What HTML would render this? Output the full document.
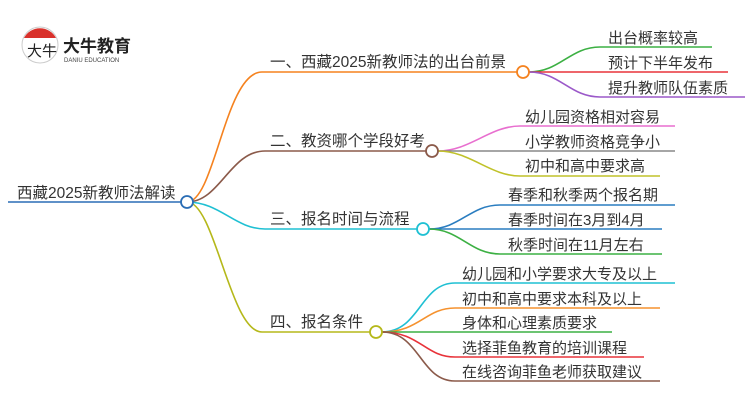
<!DOCTYPE html>
<html><head><meta charset="utf-8"><style>
html,body{margin:0;padding:0;background:#fff;}
svg{display:block;}
text{font-family:"Liberation Sans","Noto Sans CJK SC",sans-serif;fill:#333;}
</style></head><body>
<svg width="750" height="410" viewBox="0 0 750 410" xmlns="http://www.w3.org/2000/svg">
<circle cx="40" cy="45" r="18" fill="#fff" stroke="#ccc" stroke-width="1"/>
<path d="M24 38 A18 18 0 0 1 56 38 Z" fill="#d9312b"/>
<text x="27" y="56" font-size="15" style="fill:#222">大牛</text>
<text x="63" y="52" font-size="17" font-weight="bold" style="fill:#222">大牛教育</text>
<text x="64" y="62" font-size="6" style="fill:#444">DANIU EDUCATION</text>
<g fill="none" stroke-width="1.6">
<line x1="8" y1="202" x2="186" y2="202" stroke="#2a6db5"/>
<path d="M187 202 C215 202 225 72 262 72 L517 72" stroke="#f5821f"/>
<path d="M187 202 C220 202 230 151 265 151 L426 151" stroke="#8b5a4a"/>
<path d="M187 202 C220 202 235 229 265 229 L417 229" stroke="#1fc0d3"/>
<path d="M187 202 C215 202 230 332 262 332 L370 332" stroke="#b5b81a"/>
<path d="M529 72 C560 72 570 47 600 47 L712 47" stroke="#3cb043"/>
<path d="M529 72 L728 72" stroke="#e8333a"/>
<path d="M529 72 C560 72 570 97 600 97 L745 97" stroke="#9b59c9"/>
<path d="M438 151 C470 151 490 126 520 126 L675 126" stroke="#e86fcf"/>
<path d="M438 151 L675 151" stroke="#888"/>
<path d="M438 151 C470 151 490 176 520 176 L660 176" stroke="#c0c22a"/>
<path d="M429 229 C460 229 470 205 500 205 L675 205" stroke="#2a7dc0"/>
<path d="M429 229 L662 229" stroke="#2a7dc0"/>
<path d="M429 229 C460 229 470 254 500 254 L662 254" stroke="#3cb043"/>
<path d="M382 332 C420 332 420 283 455 283 L675 283" stroke="#1fc0d3"/>
<path d="M382 332 C420 332 425 308 455 308 L660 308" stroke="#f5922f"/>
<path d="M382 332 L612 332" stroke="#3cb043"/>
<path d="M382 332 C420 332 425 357 455 357 L644 357" stroke="#e8333a"/>
<path d="M382 332 C420 332 420 381 455 381 L660 381" stroke="#8b5a4a"/>
</g>
<g fill="#fff" stroke-width="1.8">
<circle cx="187" cy="202" r="6" stroke="#2a6db5"/>
<circle cx="523" cy="72" r="6" stroke="#f5821f"/>
<circle cx="432" cy="151" r="6" stroke="#8b5a4a"/>
<circle cx="423" cy="229" r="6" stroke="#1fc0d3"/>
<circle cx="376" cy="332" r="6" stroke="#b5b81a"/>
</g>
<g font-size="15.5">
<text x="17" y="198">西藏2025新教师法解读</text>
<text x="270" y="67">一、西藏2025新教师法的出台前景</text>
<text x="270" y="146">二、教资哪个学段好考</text>
<text x="270" y="224">三、报名时间与流程</text>
<text x="270" y="327">四、报名条件</text>
</g>
<g font-size="15">
<text x="608" y="43">出台概率较高</text>
<text x="608" y="68">预计下半年发布</text>
<text x="608" y="93">提升教师队伍素质</text>
<text x="525" y="122">幼儿园资格相对容易</text>
<text x="525" y="147">小学教师资格竞争小</text>
<text x="525" y="171">初中和高中要求高</text>
<text x="508" y="200">春季和秋季两个报名期</text>
<text x="508" y="225">春季时间在3月到4月</text>
<text x="508" y="250">秋季时间在11月左右</text>
<text x="462" y="279">幼儿园和小学要求大专及以上</text>
<text x="462" y="304">初中和高中要求本科及以上</text>
<text x="462" y="328">身体和心理素质要求</text>
<text x="462" y="353">选择菲鱼教育的培训课程</text>
<text x="462" y="377">在线咨询菲鱼老师获取建议</text>
</g>
</svg>
</body></html>
